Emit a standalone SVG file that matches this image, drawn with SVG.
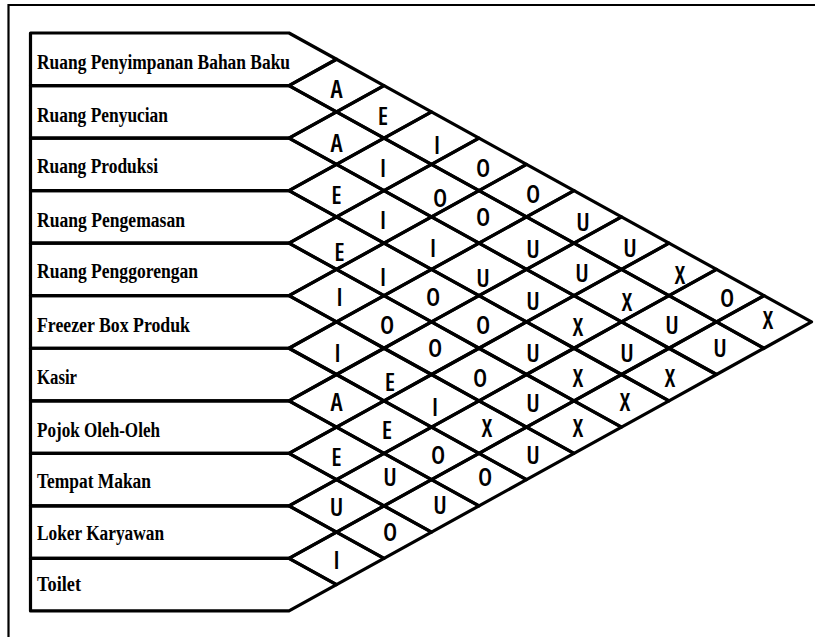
<svg xmlns="http://www.w3.org/2000/svg" xmlns:xlink="http://www.w3.org/1999/xlink" width="815" height="637" viewBox="0 0 815 637">
<style>
.ln{fill:none;stroke:#000;stroke-width:3.2;stroke-linejoin:round;stroke-linecap:round}
.frame{fill:none;stroke:#000;stroke-width:2.2}
.lbl{font-family:"Liberation Serif","DejaVu Serif",serif;font-weight:bold;font-size:20.5px;fill:#000}
.rel{font-family:"Open Sans","Noto Sans",sans-serif;font-weight:600;font-size:25px;font-stretch:75%;text-anchor:middle;fill:#000}
</style>
<defs>
<path id="row" class="ln" d="M30.5,0 H289 L336.5,26.27 L289,52.54 H30.5 Z"/>
<path id="dia" class="ln" d="M-47.5,0 L0,-26.27 L47.5,0 L0,26.27 Z"/>
</defs>
<rect width="815" height="637" fill="#fff"/>
<path class="frame" d="M8.5,637 V5 H815"/>
<g id="rooms">
<g id="room0"><use xlink:href="#row" y="33"/><text class="lbl" x="37" y="69" textLength="253" lengthAdjust="spacingAndGlyphs">Ruang Penyimpanan Bahan Baku</text></g>
<g id="room1"><use xlink:href="#row" y="85.54"/><text class="lbl" x="37" y="122" textLength="131" lengthAdjust="spacingAndGlyphs">Ruang Penyucian</text></g>
<g id="room2"><use xlink:href="#row" y="138.08"/><text class="lbl" x="37" y="173" textLength="121" lengthAdjust="spacingAndGlyphs">Ruang Produksi</text></g>
<g id="room3"><use xlink:href="#row" y="190.62"/><text class="lbl" x="37" y="227" textLength="148" lengthAdjust="spacingAndGlyphs">Ruang Pengemasan</text></g>
<g id="room4"><use xlink:href="#row" y="243.16"/><text class="lbl" x="37" y="278" textLength="161" lengthAdjust="spacingAndGlyphs">Ruang Penggorengan</text></g>
<g id="room5"><use xlink:href="#row" y="295.7"/><text class="lbl" x="37" y="332" textLength="153" lengthAdjust="spacingAndGlyphs">Freezer Box Produk</text></g>
<g id="room6"><use xlink:href="#row" y="348.24"/><text class="lbl" x="37" y="384" textLength="40" lengthAdjust="spacingAndGlyphs">Kasir</text></g>
<g id="room7"><use xlink:href="#row" y="400.78"/><text class="lbl" x="37" y="437" textLength="123" lengthAdjust="spacingAndGlyphs">Pojok Oleh-Oleh</text></g>
<g id="room8"><use xlink:href="#row" y="453.32"/><text class="lbl" x="37" y="488" textLength="114" lengthAdjust="spacingAndGlyphs">Tempat Makan</text></g>
<g id="room9"><use xlink:href="#row" y="505.86"/><text class="lbl" x="37" y="540" textLength="127" lengthAdjust="spacingAndGlyphs">Loker Karyawan</text></g>
<g id="room10"><use xlink:href="#row" y="558.4"/><text class="lbl" x="37" y="591" textLength="44" lengthAdjust="spacingAndGlyphs">Toilet</text></g>
</g>
<g id="relations">
<g id="r0-1" transform="translate(336.5,85.54)"><use xlink:href="#dia"/><text class="rel" x="0" y="12.5">A</text></g>
<g id="r1-2" transform="translate(336.5,138.08)"><use xlink:href="#dia"/><text class="rel" x="0" y="14">A</text></g>
<g id="r2-3" transform="translate(336.5,190.62)"><use xlink:href="#dia"/><text class="rel" x="0" y="13.4">E</text></g>
<g id="r3-4" transform="translate(336.5,243.16)"><use xlink:href="#dia"/><text class="rel" x="3" y="18">E</text></g>
<g id="r4-5" transform="translate(336.5,295.7)"><use xlink:href="#dia"/><text class="rel" x="3" y="10">I</text></g>
<g id="r5-6" transform="translate(336.5,348.24)"><use xlink:href="#dia"/><text class="rel" x="1" y="14">I</text></g>
<g id="r6-7" transform="translate(336.5,400.78)"><use xlink:href="#dia"/><text class="rel" x="0" y="10">A</text></g>
<g id="r7-8" transform="translate(336.5,453.32)"><use xlink:href="#dia"/><text class="rel" x="0" y="13">E</text></g>
<g id="r8-9" transform="translate(336.5,505.86)"><use xlink:href="#dia"/><text class="rel" x="0" y="10">U</text></g>
<g id="r9-10" transform="translate(336.5,558.4)"><use xlink:href="#dia"/><text class="rel" x="0" y="11">I</text></g>
<g id="r0-2" transform="translate(384,111.81)"><use xlink:href="#dia"/><text class="rel" x="-1" y="13">E</text></g>
<g id="r1-3" transform="translate(384,164.35)"><use xlink:href="#dia"/><text class="rel" x="-1" y="13">I</text></g>
<g id="r2-4" transform="translate(384,216.89)"><use xlink:href="#dia"/><text class="rel" x="-1" y="12">I</text></g>
<g id="r3-5" transform="translate(384,269.43)"><use xlink:href="#dia"/><text class="rel" x="-1" y="16.5">I</text></g>
<g id="r4-6" transform="translate(384,321.97)"><use xlink:href="#dia"/><text class="rel" x="3" y="12">O</text></g>
<g id="r5-7" transform="translate(384,374.51)"><use xlink:href="#dia"/><text class="rel" x="6" y="16.5">E</text></g>
<g id="r6-8" transform="translate(384,427.05)"><use xlink:href="#dia"/><text class="rel" x="3" y="12">E</text></g>
<g id="r7-9" transform="translate(384,479.59)"><use xlink:href="#dia"/><text class="rel" x="6" y="6.4">U</text></g>
<g id="r8-10" transform="translate(384,532.13)"><use xlink:href="#dia"/><text class="rel" x="6" y="9">O</text></g>
<g id="r0-3" transform="translate(431.5,138.08)"><use xlink:href="#dia"/><text class="rel" x="5.5" y="16">I</text></g>
<g id="r1-4" transform="translate(431.5,190.62)"><use xlink:href="#dia"/><text class="rel" x="8.5" y="16.4">O</text></g>
<g id="r2-5" transform="translate(431.5,243.16)"><use xlink:href="#dia"/><text class="rel" x="1.5" y="14">I</text></g>
<g id="r3-6" transform="translate(431.5,295.7)"><use xlink:href="#dia"/><text class="rel" x="1.5" y="10.3">O</text></g>
<g id="r4-7" transform="translate(431.5,348.24)"><use xlink:href="#dia"/><text class="rel" x="3.5" y="9">O</text></g>
<g id="r5-8" transform="translate(431.5,400.78)"><use xlink:href="#dia"/><text class="rel" x="3.5" y="15">I</text></g>
<g id="r6-9" transform="translate(431.5,453.32)"><use xlink:href="#dia"/><text class="rel" x="6.5" y="11">O</text></g>
<g id="r7-10" transform="translate(431.5,505.86)"><use xlink:href="#dia"/><text class="rel" x="8.5" y="8">U</text></g>
<g id="r0-4" transform="translate(479,164.35)"><use xlink:href="#dia"/><text class="rel" x="4" y="12.6">O</text></g>
<g id="r1-5" transform="translate(479,216.89)"><use xlink:href="#dia"/><text class="rel" x="4" y="9">O</text></g>
<g id="r2-6" transform="translate(479,269.43)"><use xlink:href="#dia"/><text class="rel" x="4" y="17.6">U</text></g>
<g id="r3-7" transform="translate(479,321.97)"><use xlink:href="#dia"/><text class="rel" x="4" y="12">O</text></g>
<g id="r4-8" transform="translate(479,374.51)"><use xlink:href="#dia"/><text class="rel" x="1" y="12.5">O</text></g>
<g id="r5-9" transform="translate(479,427.05)"><use xlink:href="#dia"/><text class="rel" x="8" y="10">X</text></g>
<g id="r6-10" transform="translate(479,479.59)"><use xlink:href="#dia"/><text class="rel" x="6" y="6.4">O</text></g>
<g id="r0-5" transform="translate(526.5,190.62)"><use xlink:href="#dia"/><text class="rel" x="6.5" y="12.4">O</text></g>
<g id="r1-6" transform="translate(526.5,243.16)"><use xlink:href="#dia"/><text class="rel" x="6.5" y="15">U</text></g>
<g id="r2-7" transform="translate(526.5,295.7)"><use xlink:href="#dia"/><text class="rel" x="6.5" y="14">U</text></g>
<g id="r3-8" transform="translate(526.5,348.24)"><use xlink:href="#dia"/><text class="rel" x="6.5" y="14">U</text></g>
<g id="r4-9" transform="translate(526.5,400.78)"><use xlink:href="#dia"/><text class="rel" x="6.5" y="11">U</text></g>
<g id="r5-10" transform="translate(526.5,453.32)"><use xlink:href="#dia"/><text class="rel" x="6.5" y="11">U</text></g>
<g id="r0-6" transform="translate(574,216.89)"><use xlink:href="#dia"/><text class="rel" x="9" y="14">U</text></g>
<g id="r1-7" transform="translate(574,269.43)"><use xlink:href="#dia"/><text class="rel" x="8" y="12.6">U</text></g>
<g id="r2-8" transform="translate(574,321.97)"><use xlink:href="#dia"/><text class="rel" x="4" y="14">X</text></g>
<g id="r3-9" transform="translate(574,374.51)"><use xlink:href="#dia"/><text class="rel" x="4" y="12.5">X</text></g>
<g id="r4-10" transform="translate(574,427.05)"><use xlink:href="#dia"/><text class="rel" x="4" y="10">X</text></g>
<g id="r0-7" transform="translate(621.5,243.16)"><use xlink:href="#dia"/><text class="rel" x="8.5" y="14">U</text></g>
<g id="r1-8" transform="translate(621.5,295.7)"><use xlink:href="#dia"/><text class="rel" x="5.5" y="15">X</text></g>
<g id="r2-9" transform="translate(621.5,348.24)"><use xlink:href="#dia"/><text class="rel" x="5.5" y="14">U</text></g>
<g id="r3-10" transform="translate(621.5,400.78)"><use xlink:href="#dia"/><text class="rel" x="3.5" y="10">X</text></g>
<g id="r0-8" transform="translate(669,269.43)"><use xlink:href="#dia"/><text class="rel" x="11" y="14.6">X</text></g>
<g id="r1-9" transform="translate(669,321.97)"><use xlink:href="#dia"/><text class="rel" x="3" y="12">U</text></g>
<g id="r2-10" transform="translate(669,374.51)"><use xlink:href="#dia"/><text class="rel" x="1" y="12.5">X</text></g>
<g id="r0-9" transform="translate(716.5,295.7)"><use xlink:href="#dia"/><text class="rel" x="10.5" y="11">O</text></g>
<g id="r1-10" transform="translate(716.5,348.24)"><use xlink:href="#dia"/><text class="rel" x="3.5" y="9">U</text></g>
<g id="r0-10" transform="translate(764,321.97)"><use xlink:href="#dia"/><text class="rel" x="4" y="7">X</text></g>
</g>
</svg>
